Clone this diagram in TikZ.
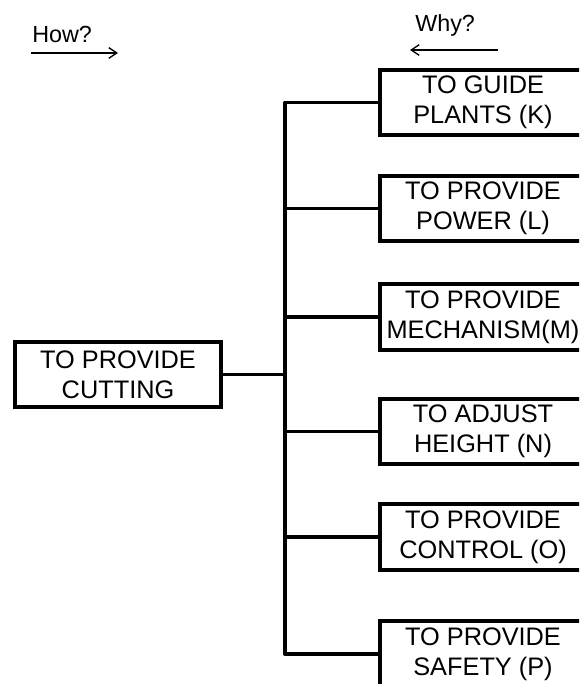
\documentclass[tikz,border=0pt]{standalone}
\usepackage{fontspec}
\setmainfont{Liberation Sans}
\usetikzlibrary{positioning,arrows.meta}
\tikzset{
  func/.style={
    draw,
    line width=3pt,
    minimum width=154.5pt,
    minimum height=49pt,
    inner sep=0pt,
    align=center,
    font=\fontsize{19}{22.5}\selectfont
  },
  tree/.style={
    line width=2.5pt,
    line join=round
  },
  ask/.style={
    font=\fontsize{17.5}{21}\selectfont,
    inner sep=0pt,
    anchor=base west
  },
  dir/.style={
    -{Straight Barb[length=6pt,width=8pt]},
    line width=1pt
  }
}

\begin{document}
\begin{tikzpicture}[x=0.75pt,y=-0.75pt]
    \useasboundingbox (0,0) rectangle (579,684);
    \clip (0,0) rectangle (579,684);
    % question labels
    \node[ask] (how) at (32,43) {How?};
    \node[ask] (why) at (415,32) {Why?};
    \coordinate (howA) at (31,53);
    \coordinate (howB) at (118,53);
    \coordinate (whyA) at (498,50);
    \coordinate (whyB) at (410,50);
    \draw[dir] (howA) -- (howB);
    \draw[dir] (whyA) -- (whyB);
    % functions
    \node[func] (cut) at (118,374.5) {TO PROVIDE\\CUTTING};
    \node[func] (k) at (483,102.5) {TO GUIDE\\PLANTS (K)};
    \node[func] (l) at (483,208.5) {TO PROVIDE\\POWER (L)};
    \node[func] (m) at (483,317) {TO PROVIDE\\MECHANISM(M)};
    \node[func] (n) at (483,431.5) {TO ADJUST\\HEIGHT (N)};
    \node[func] (o) at (483,537) {TO PROVIDE\\CONTROL (O)};
    \node[func] (p) at (483,654) {TO PROVIDE\\SAFETY (P)};
    \coordinate (spine) at (285,0);
    % tree
    \draw[tree] (k.west) -- (k.west -| spine) -- (p.west -| spine) -- (p.west);
    \draw[tree] (cut.east) -- (cut.east -| spine);
    \foreach \f in {l,m,n,o}
        \draw[tree] (\f.west -| spine) -- (\f.west);
\end{tikzpicture}
\end{document}
